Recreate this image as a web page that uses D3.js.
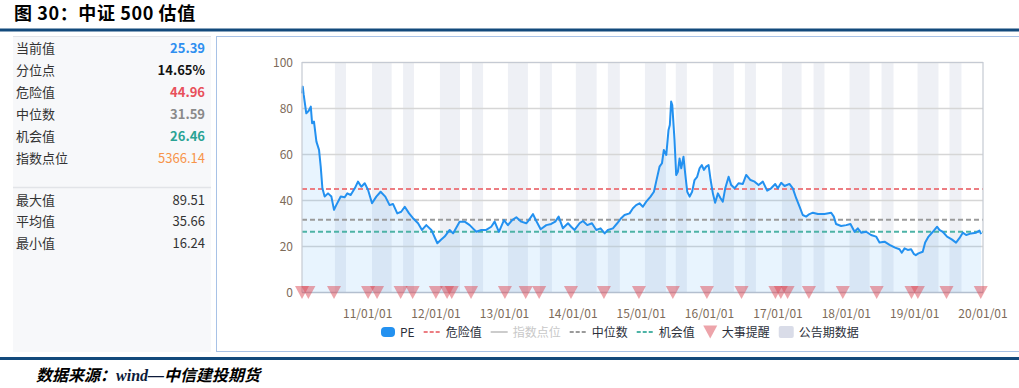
<!DOCTYPE html>
<html lang="zh">
<head>
<meta charset="utf-8">
<title>中证500估值</title>
<script src="https://cdn.jsdelivr.net/npm/d3@7"></script>
<style>
  body { margin: 0; background: #fff; }
  svg { display: block; font-family: "Noto Sans CJK SC", "Noto Sans", sans-serif; }
  .grid line { stroke: #d6d6d6; stroke-width: 1.5; }
  .tick-label { fill: #7d6b5a; font-size: 12px; }
  .legend text { font-size: 12px; fill: #2b2f3a; }
</style>
</head>
<body>
<script>
var w = 1019, h = 388;

// PE 序列
var peDates = ["2010-01-15","2010-01-19","2010-01-24","2010-02-07","2010-02-20","2010-03-03","2010-03-10","2010-03-20","2010-04-02","2010-04-16","2010-04-25","2010-05-04","2010-05-16","2010-06-03","2010-06-21","2010-07-05","2010-07-17","2010-08-10","2010-08-31","2010-09-14","2010-10-02","2010-10-24","2010-11-10","2010-11-28","2010-12-16",
  "2011-01-03","2011-01-24","2011-02-16","2011-03-11","2011-04-05","2011-04-28","2011-05-16","2011-06-08","2011-06-29","2011-07-18","2011-08-10","2011-08-31","2011-09-27","2011-10-18","2011-11-10","2011-12-07",
  "2012-01-08","2012-01-26","2012-02-16","2012-03-14","2012-04-01","2012-05-06","2012-06-02","2012-06-29","2012-07-16","2012-08-03","2012-08-30","2012-09-25","2012-10-22","2012-11-09","2012-12-02","2012-12-29",
  "2013-01-19","2013-02-11","2013-03-05","2013-03-31","2013-04-27","2013-05-11","2013-06-02","2013-06-19","2013-07-13","2013-08-12","2013-09-07","2013-09-29","2013-10-17","2013-11-09","2013-12-06","2013-12-23",
  "2014-01-10","2014-02-06","2014-02-24","2014-03-19","2014-04-13","2014-05-06","2014-05-29","2014-06-20","2014-07-07","2014-08-03","2014-08-26","2014-09-16","2014-10-04","2014-10-31","2014-11-18","2014-12-05","2014-12-23",
  "2015-01-10","2015-01-28","2015-02-20","2015-03-10","2015-03-22","2015-04-09","2015-04-22","2015-05-02","2015-05-15","2015-05-27","2015-06-03","2015-06-10","2015-06-16","2015-06-28","2015-07-07","2015-07-16","2015-07-25","2015-08-03","2015-08-15","2015-08-24","2015-09-04","2015-09-17","2015-09-30","2015-10-13","2015-10-27","2015-11-09","2015-11-21","2015-12-02","2015-12-14","2015-12-27",
  "2016-01-07","2016-01-19","2016-01-31","2016-02-15","2016-02-29","2016-03-12","2016-03-25","2016-04-12","2016-04-26","2016-05-14","2016-06-04","2016-06-27","2016-07-15","2016-08-07","2016-08-29","2016-09-19","2016-10-12","2016-11-04","2016-11-25","2016-12-17","2016-12-31",
  "2017-01-18","2017-02-05","2017-03-03","2017-03-21","2017-04-08","2017-04-26","2017-05-13","2017-05-31","2017-06-18","2017-07-06","2017-08-02","2017-09-06","2017-10-12","2017-10-26","2017-11-07","2017-12-04","2017-12-31",
  "2018-01-23","2018-02-14","2018-03-03","2018-03-21","2018-04-17","2018-05-13","2018-06-09","2018-06-27","2018-07-24","2018-08-20","2018-09-18","2018-10-12","2018-10-24","2018-11-08","2018-11-25","2018-12-13","2018-12-27",
  "2019-01-07","2019-01-21","2019-02-13","2019-02-26","2019-03-16","2019-04-08","2019-05-01","2019-05-13","2019-05-31","2019-06-23","2019-07-18","2019-08-10","2019-08-28","2019-09-15","2019-10-03","2019-10-29","2019-11-25","2019-12-13","2019-12-22"];

var peValues = [86.6,89.51,86.0,77.9,79.0,80.8,73.6,74.3,65.6,62.0,54.7,45.3,41.7,43.1,41.7,35.9,38.0,41.7,41.4,43.1,42.4,45.3,48.2,46.0,47.5,
  44.6,38.8,41.7,43.8,41.7,38.0,38.5,34.4,35.1,37.3,34.4,32.3,30.1,27.2,29.3,27.2,
  21.4,22.8,24.3,27.2,25.7,30.8,30.8,29.3,27.9,26.4,27.2,27.2,28.6,30.8,26.4,31.5,
  29.3,31.5,32.7,30.8,30.1,31.5,34.1,31.2,27.5,29.3,29.8,30.8,33.0,27.9,30.1,28.6,
  27.2,30.1,31.1,29.3,30.1,27.2,27.9,25.7,27.2,27.9,30.1,32.3,33.7,34.4,36.6,38.0,38.8,
  37.3,39.5,41.7,43.8,48.2,54.7,56.2,62.0,59.8,70.7,72.8,83.0,81.5,66.3,51.1,52.5,58.3,54.0,59.0,51.8,43.8,41.7,43.8,48.9,50.3,54.0,55.4,53.3,54.7,55.4,
  48.9,43.1,39.0,43.1,41.0,39.5,45.3,50.3,46.7,45.3,47.5,47.2,51.1,48.9,48.2,46.7,48.2,44.3,45.3,47.2,45.3,
  47.7,46.3,47.2,45.3,41.0,37.3,33.7,33.0,34.1,34.7,34.1,34.1,34.7,33.0,29.8,28.9,29.3,
  29.8,26.4,27.9,26.0,26.4,25.0,24.3,21.7,22.1,20.7,19.5,18.8,17.3,19.2,18.5,18.8,16.8,
  16.24,17.0,17.7,21.7,24.3,26.4,28.6,27.2,26.4,24.3,23.1,21.7,23.6,26.0,25.0,25.7,26.0,26.9,25.39];

// 参考线
var dangerValue = 44.96, medianValue = 31.59, chanceValue = 26.46;

// 大事提醒
var eventDates = ["2010-01-15","2010-02-18","2010-07-05","2011-01-03","2011-02-20","2011-06-26","2011-08-29","2011-12-31","2012-02-29","2012-03-25","2012-07-06","2013-01-03","2013-04-24","2013-07-05","2013-12-22","2014-06-16","2014-12-20","2015-06-19","2015-12-18","2016-06-20","2016-12-18","2017-01-16","2017-02-21","2017-06-15","2017-12-13","2018-06-12","2018-12-15","2019-01-18","2019-06-20","2019-12-20"];

// 公告期
var bandStarts = ["2010-07-10","2011-01-24","2011-07-09","2012-01-22","2012-07-11","2013-01-19","2013-07-09","2014-01-17","2014-07-07","2015-01-21","2015-07-05","2016-01-19","2016-07-08","2017-01-22","2017-07-10","2018-01-18","2018-07-08","2019-01-16","2019-07-06"];
var bandEnds   = ["2010-09-07","2011-05-09","2011-09-05","2012-05-08","2012-09-08","2013-05-06","2013-09-11","2014-05-08","2014-09-09","2015-05-13","2015-09-02","2016-05-10","2016-09-05","2017-05-07","2017-09-06","2018-05-05","2018-09-10","2019-05-08","2019-09-08"];

var yTicks = [0, 20, 40, 60, 80, 100];
var xTickYears = ["2011-01-01","2012-01-01","2013-01-01","2014-01-01","2015-01-01","2016-01-01","2017-01-01","2018-01-01","2019-01-01","2020-01-01"];

// 左侧统计
var statLabels = ["当前值","分位点","危险值","中位数","机会值","指数点位"];
var statValues = ["25.39","14.65%","44.96","31.59","26.46","5366.14"];
var statColors = ["#2e8ff0","#111","#e8505b","#8a8a8a","#2aa394","#f7944a"];
var statBold = [true, true, true, true, true, false];
var extLabels = ["最大值","平均值","最小值"];
var extValues = ["89.51","35.66","16.24"];

var legendItems = ["PE","危险值","指数点位","中位数","机会值","大事提醒","公告期数据"];

var parse = d3.timeParse("%Y-%m-%d");
var data = peDates.map(function(d, i) { return { date: parse(d), value: peValues[i] }; });

var svg = d3.select("body").append("svg").attr("width", w).attr("height", h);

// 标题
svg.append("text").attr("x", 14).attr("y", 20)
  .style("font-size", "18px").style("font-weight", "bold").style("fill", "#000")
  .style("letter-spacing", "0.6px")
  .text("图 30：中证 500 估值");

svg.append("rect").attr("x", 0).attr("y", 28.5).attr("width", w).attr("height", 3).attr("fill", "#134a7c");
svg.append("rect").attr("x", 0).attr("y", 357).attr("width", w).attr("height", 3).attr("fill", "#134a7c");

// 左侧面板
svg.append("rect").attr("x", 13).attr("y", 36).attr("width", 198).attr("height", 316).attr("fill", "#f7f8fa");
svg.append("line").attr("x1", 13).attr("x2", 211).attr("y1", 36.5).attr("y2", 36.5).attr("stroke", "#e2e4e8");
svg.append("line").attr("x1", 13).attr("x2", 211).attr("y1", 187.5).attr("y2", 187.5).attr("stroke", "#e2e4e8").attr("stroke-width", 1.5);

var rowH = 21.9;
statLabels.forEach(function(lab, i) {
  var y = 48.5 + i * rowH + 4.5;
  svg.append("text").attr("x", 16).attr("y", y).style("font-size", "13px").style("fill", "#333").text(lab);
  svg.append("text").attr("x", 205).attr("y", y).attr("text-anchor", "end")
    .style("font-size", "13px").style("font-weight", statBold[i] ? "bold" : "normal")
    .style("fill", statColors[i]).text(statValues[i]);
});
extLabels.forEach(function(lab, i) {
  var y = 200 + i * rowH + 4.5;
  svg.append("text").attr("x", 16).attr("y", y).style("font-size", "13px").style("fill", "#333").text(lab);
  svg.append("text").attr("x", 205).attr("y", y).attr("text-anchor", "end")
    .style("font-size", "13px").style("fill", "#333").text(extValues[i]);
});

// 图表面板边框
svg.append("rect").attr("x", 216.5).attr("y", 36.5).attr("width", 820).attr("height", 315)
  .attr("fill", "none").attr("stroke", "#a8c2e6");

// 比例尺
var x0 = 302, x1 = 983, yTop = 62.5, yBot = 292.5;
var xScale = d3.scaleTime().domain([parse("2010-01-15"), parse("2020-01-01")]).range([x0, x1]);
var yScale = d3.scaleLinear().domain([0, 100]).range([yBot, yTop]);

// 公告期
svg.append("g").selectAll("rect")
  .data(bandStarts)
  .enter().append("rect")
  .attr("x", function(d) { return xScale(parse(d)); })
  .attr("y", yTop)
  .attr("width", function(d, i) { return xScale(parse(bandEnds[i])) - xScale(parse(d)); })
  .attr("height", yBot - yTop)
  .attr("fill", "#c3c8dc").attr("opacity", 0.28);

// 网格
svg.append("g").attr("class", "grid").selectAll("line")
  .data(yTicks.filter(function(d) { return d > 0; }))
  .enter().append("line")
  .attr("x1", x0).attr("x2", x1)
  .attr("y1", function(d) { return yScale(d); })
  .attr("y2", function(d) { return yScale(d); });

// 面积与折线
var area = d3.area()
  .x(function(d) { return xScale(d.date); })
  .y0(yScale(0))
  .y1(function(d) { return yScale(d.value); });
var line = d3.line()
  .x(function(d) { return xScale(d.date); })
  .y(function(d) { return yScale(d.value); });

svg.append("path").datum(data).attr("d", area).attr("fill", "#2196f3").attr("opacity", 0.1);

// 参考线
var refLines = [
  { v: dangerValue, c: "#ec7d82" },
  { v: medianValue, c: "#9a9a9a" },
  { v: chanceValue, c: "#4db3a6" }
];
svg.append("g").selectAll("line")
  .data(refLines)
  .enter().append("line")
  .attr("x1", x0).attr("x2", x1)
  .attr("y1", function(d) { return yScale(d.v); })
  .attr("y2", function(d) { return yScale(d.v); })
  .attr("stroke", function(d) { return d.c; })
  .attr("stroke-width", 2)
  .attr("stroke-dasharray", "5,3");

svg.append("path").datum(data).attr("d", line)
  .attr("fill", "none").attr("stroke", "#2391f0").attr("stroke-width", 2).attr("stroke-linejoin", "round");

// 坐标框
svg.append("path")
  .attr("d", "M" + x0 + "," + yBot + "V" + yTop + "H" + x1 + "V" + yBot)
  .attr("fill", "none").attr("stroke", "#c5cad3").attr("stroke-width", 1.2);
svg.append("line").attr("x1", x0).attr("x2", x1).attr("y1", yBot).attr("y2", yBot)
  .attr("stroke", "#b3bfcf").attr("stroke-width", 1.5);

// 大事提醒（倒三角）
function triPath(cx, cy) {
  return "M" + (cx - 7) + "," + (cy - 6.5) + "L" + (cx + 7) + "," + (cy - 6.5) + "L" + cx + "," + (cy + 6.5) + "Z";
}
svg.append("g").selectAll("path")
  .data(eventDates)
  .enter().append("path")
  .attr("d", function(d) { return triPath(xScale(parse(d)), yBot); })
  .attr("fill", "#dc4a55").attr("opacity", 0.5);

// 坐标轴文字
svg.append("g").selectAll("text")
  .data(yTicks)
  .enter().append("text")
  .attr("class", "tick-label")
  .attr("x", 293).attr("y", function(d) { return yScale(d) + 4.5; })
  .attr("text-anchor", "end")
  .text(function(d) { return d; });

var fmt = d3.timeFormat("%y/%m/%d");
svg.append("g").selectAll("text")
  .data(xTickYears)
  .enter().append("text")
  .attr("class", "tick-label")
  .attr("x", function(d) { return xScale(parse(d)); })
  .attr("y", 318)
  .attr("text-anchor", "middle")
  .text(function(d) { return fmt(parse(d)); });

// 图例
var lg = svg.append("g").attr("class", "legend");
var lx = 381, ly = 332;
legendItems.forEach(function(name, i) {
  var g = lg.append("g");
  var iw = 17;
  if (i === 0) {
    iw = 14;
    g.append("rect").attr("x", lx).attr("y", ly - 5).attr("width", 14).attr("height", 10).attr("rx", 4).attr("fill", "#2391f0");
  } else if (i === 1 || i === 3 || i === 4) {
    var c = i === 1 ? "#ec7d82" : (i === 3 ? "#9a9a9a" : "#4db3a6");
    g.append("line").attr("x1", lx).attr("x2", lx + 17).attr("y1", ly).attr("y2", ly)
      .attr("stroke", c).attr("stroke-width", 2).attr("stroke-dasharray", "4,2");
  } else if (i === 2) {
    g.append("line").attr("x1", lx).attr("x2", lx + 17).attr("y1", ly).attr("y2", ly)
      .attr("stroke", "#cccccc").attr("stroke-width", 2);
  } else if (i === 5) {
    iw = 13;
    g.append("path").attr("d", triPath(lx + 6.5, ly)).attr("fill", "#dc4a55").attr("opacity", 0.5);
  } else {
    iw = 15;
    g.append("rect").attr("x", lx).attr("y", ly - 6).attr("width", 15).attr("height", 12).attr("rx", 2).attr("fill", "#d9dce8");
  }
  var t = g.append("text").attr("x", lx + iw + 5).attr("y", ly + 4.5).text(name);
  if (i === 2) t.style("fill", "#c8c8c8");
  lx += iw + 5 + t.node().getComputedTextLength() + 9;
});

// 数据来源
var src = svg.append("text").attr("x", 36).attr("y", 381)
  .style("font-size", "16px").style("font-weight", "bold").style("font-style", "italic").style("fill", "#000");
src.append("tspan").text("数据来源：");
src.append("tspan").style("font-family", "'Liberation Serif', serif").style("fill", "#0d1a3a").text("wind—");
src.append("tspan").text("中信建投期货");
</script>
</body>
</html>
